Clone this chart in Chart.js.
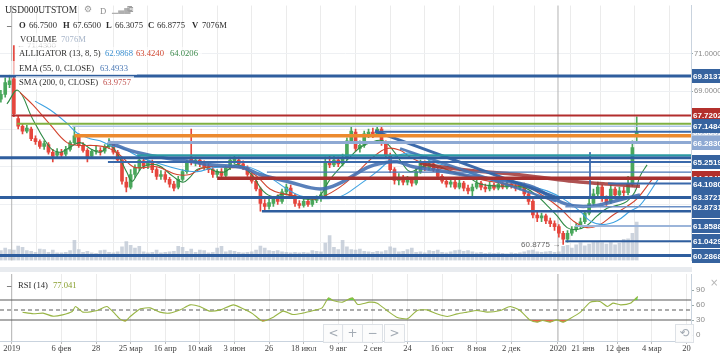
<!DOCTYPE html>
<html>
<head>
<meta charset="utf-8">
<script src="https://cdn.jsdelivr.net/npm/chart.js@4.4.1/dist/chart.umd.min.js"></script>
<style>
html,body{margin:0;padding:0;background:#fff;}
#wrap{position:relative;width:720px;height:354px;overflow:hidden;background:#fff;}
canvas{position:absolute;left:0;}
#cMain{top:0;}
#cRsi{top:266px;}
.t{position:absolute;font-family:"Liberation Serif","DejaVu Serif",serif;font-size:8.6px;line-height:12px;color:#2b2b2b;white-space:nowrap;}
.b{font-weight:bold;}
.bg{position:absolute;background:rgba(255,255,255,0.62);}
.btn{position:absolute;border:1px solid #dde1e6;background:rgba(252,252,252,0.9);color:#a3abb4;font-family:"DejaVu Sans",sans-serif;font-size:12px;text-align:center;line-height:17px;height:17px;}
#sep{position:absolute;left:0;top:267px;width:692px;height:5px;background:#e8ebef;}
</style>
</head>
<body>
<div id="wrap">
<canvas id="cMain" width="720" height="266"></canvas>
<canvas id="cRsi" width="720" height="88"></canvas>
<div id="sep"></div>

<div class="t" style="left:5px;top:4px;font-size:9.5px;">USD000UTSTOM</div>
<div class="t" style="left:84px;top:3px;font-family:'DejaVu Sans';font-size:9px;color:#9a9a9a;">⚙</div>
<div class="t" style="left:100px;top:5px;color:#8a8a8a;">D</div>
<div class="t" style="left:112px;top:4px;font-family:'DejaVu Sans';font-size:8px;color:#b0b0b0;">▁▃▅</div>
<div class="t" style="left:127px;top:3px;font-family:'DejaVu Sans';font-size:9px;color:#a0a0a0;">⧉</div>

<div class="t b" style="left:7px;top:19px;">–</div>
<div class="t b" style="left:19px;top:19px;">O</div><div class="t" style="left:29px;top:19px;">66.7500</div>
<div class="t b" style="left:63px;top:19px;">H</div><div class="t" style="left:73px;top:19px;">67.6500</div>
<div class="t b" style="left:106px;top:19px;">L</div><div class="t" style="left:115px;top:19px;">66.3075</div>
<div class="t b" style="left:148px;top:19px;">C</div><div class="t" style="left:157px;top:19px;">66.8775</div>
<div class="t b" style="left:192px;top:19px;">V</div><div class="t" style="left:202px;top:19px;">7076M</div>

<div class="bg" style="left:16px;top:33px;width:72px;height:13px;"></div>
<div class="t" style="left:20px;top:33px;">VOLUME</div><div class="t" style="left:61px;top:33px;color:#a6b4c8;">7076M</div>

<div class="bg" style="left:16px;top:47px;width:186px;height:13px;"></div>
<div class="t" style="left:19px;top:47px;">ALLIGATOR (13, 8, 5)</div>
<div class="t" style="left:105px;top:47px;color:#3a8fd0;">62.9868</div>
<div class="t" style="left:136px;top:47px;color:#d0452f;">63.4240</div>
<div class="t" style="left:170px;top:47px;color:#3d8a4c;">64.0206</div>

<div class="bg" style="left:0px;top:61px;width:137px;height:14px;"></div>
<div class="t" style="left:19px;top:62px;">EMA (55, 0, CLOSE)</div>
<div class="t" style="left:100px;top:62px;color:#4a78b5;">63.4933</div>

<div class="bg" style="left:16px;top:76px;width:118px;height:13px;"></div>
<div class="t" style="left:19px;top:76px;">SMA (200, 0, CLOSE)</div>
<div class="t" style="left:103px;top:76px;color:#c0504d;">63.9757</div>

<div class="t b" style="left:7px;top:279px;">–</div>
<div class="t" style="left:18px;top:279px;">RSI (14)</div>
<div class="t" style="left:53px;top:279px;color:#8aa030;">77.041</div>
<div class="t" style="left:710px;top:277px;font-family:'DejaVu Sans';font-size:10px;color:#b5b5b5;">×</div>

<div class="btn" style="left:323px;top:324px;width:19px;">&lt;</div>
<div class="btn" style="left:342px;top:324px;width:19px;">+</div>
<div class="btn" style="left:362px;top:324px;width:19px;">−</div>
<div class="btn" style="left:384px;top:324px;width:19px;">&gt;</div>
<div class="btn" style="left:675px;top:324px;width:17px;">⟲</div>
</div>

<script>
// ---------------- DATA ----------------
const tickDays   = [0, 23, 39, 55, 71, 87, 103, 119, 135, 151, 167, 183, 199, 215, 231, 252.6, 264.2, 280.1, 296, 312];
const tickLabels = ['2019','6 фев','28','25 мар','16 апр','10 май','3 июн','26','18 июл','9 авг','2 сен','24','16 окт','8 ноя','2 дек','2020','21 янв','12 фев','4 мар','20'];
const yearDays   = [0, 252.6];

const firstDay = -5, dayStep = 2;
const open = [68.58,68.84,69.35,69.66,67.56,67.15,66.89,67.00,66.49,66.33,66.08,66.18,65.77,65.61,65.77,65.67,65.92,66.28,66.59,66.13,
65.87,65.56,65.82,65.87,65.82,66.08,66.23,65.77,65.36,64.18,63.92,64.59,64.95,65.31,65.05,65.20,64.85,64.49,64.59,64.33,
64.08,63.92,64.33,64.74,65.51,65.26,65.36,65.15,65.00,64.85,64.59,64.74,64.54,64.95,65.31,65.36,65.15,64.95,64.59,64.23,
63.82,63.05,62.90,63.05,63.31,63.16,63.67,63.87,63.46,63.05,62.95,63.16,63.00,63.21,63.31,63.46,65.26,65.10,65.36,65.15,
65.46,66.38,66.84,65.97,66.13,66.74,66.84,66.74,67.00,66.28,65.61,64.85,64.28,64.44,64.18,64.33,64.13,64.74,65.20,64.95,
65.15,64.85,64.49,64.23,64.08,64.18,63.92,64.13,63.87,63.72,63.92,64.13,63.92,63.82,64.03,63.87,64.08,63.92,64.08,63.97,
63.87,64.03,63.56,63.16,62.44,62.28,62.39,62.13,61.98,61.82,61.47,61.16,61.47,61.67,61.82,62.08,62.54,63.05,63.56,63.92,
63.31,63.16,63.82,63.51,63.72,63.62,64.08,66.75];
const high = [69.05,69.71,69.87,71.43,67.71,67.30,67.20,67.10,66.64,66.43,66.38,66.28,65.92,65.97,65.92,66.08,66.38,67.10,66.74,66.28,
65.97,65.92,66.08,66.02,66.18,66.49,66.33,65.87,65.46,64.44,64.85,65.10,65.51,65.46,65.36,65.36,64.95,64.79,64.74,64.44,
64.23,64.49,64.85,65.36,67.00,65.51,65.46,65.31,65.15,64.95,64.85,64.90,65.05,65.51,65.56,65.51,65.31,65.05,64.69,64.33,
63.92,63.26,63.31,63.41,63.51,63.82,64.08,64.03,63.56,63.21,63.31,63.31,63.36,63.46,63.67,65.51,65.56,65.56,65.51,65.67,
66.54,67.10,67.00,66.38,66.89,67.00,67.05,67.15,67.10,66.38,65.72,64.95,64.64,64.54,64.49,64.44,64.90,65.36,65.31,65.36,
65.26,64.95,64.59,64.33,64.33,64.28,64.28,64.23,64.03,64.08,64.28,64.23,64.08,64.18,64.13,64.23,64.18,64.23,64.18,64.08,
64.13,64.13,63.67,63.26,62.59,62.54,62.49,62.28,62.13,61.93,61.57,61.62,61.82,61.98,62.28,62.69,63.31,63.82,64.18,64.03,
63.46,64.03,63.92,63.92,63.92,64.49,66.38,67.65];
const low = [68.43,68.69,69.20,67.66,67.00,66.74,66.79,66.38,66.18,65.97,65.92,65.67,65.26,65.46,65.46,65.56,65.82,66.18,66.02,65.77,
65.26,65.46,65.67,65.61,65.72,65.97,65.67,65.26,64.08,63.67,63.82,64.44,64.79,64.90,64.90,64.69,64.33,64.33,64.18,63.92,
63.72,63.82,64.23,64.64,65.10,65.05,65.00,64.85,64.69,64.44,64.44,64.38,64.44,64.85,65.15,65.05,64.85,64.49,64.13,63.72,
62.64,62.69,62.75,62.90,63.00,63.05,63.51,63.36,62.90,62.80,62.85,62.90,62.90,63.10,63.16,63.36,64.95,65.00,65.00,65.05,
65.36,66.23,65.82,65.77,66.02,66.54,66.54,66.59,66.13,65.46,64.69,64.08,64.03,64.03,64.03,63.97,64.03,64.64,64.79,64.85,
64.74,64.38,64.13,63.92,63.92,63.82,63.82,63.72,63.56,63.31,63.82,63.77,63.67,63.72,63.77,63.77,63.82,63.82,63.87,63.72,
63.77,63.46,63.00,62.28,62.08,62.08,61.98,61.82,61.62,61.26,60.8775,61.00,61.36,61.57,61.72,61.98,62.44,62.95,63.41,63.16,
62.95,63.05,63.36,63.31,63.46,63.51,63.97,66.3075];
const close = [68.84,69.46,69.56,67.82,67.15,66.89,67.05,66.49,66.33,66.08,66.23,65.77,65.56,65.77,65.61,65.92,66.28,66.64,66.13,65.87,
65.51,65.82,65.87,65.77,66.08,66.23,65.77,65.36,64.23,63.92,64.59,64.95,65.36,65.05,65.20,64.85,64.49,64.59,64.33,64.08,
63.87,64.33,64.74,65.20,65.26,65.36,65.15,65.00,64.85,64.59,64.74,64.54,64.95,65.36,65.41,65.15,64.95,64.59,64.23,63.82,
63.05,62.90,63.10,63.31,63.16,63.67,63.92,63.46,63.05,62.95,63.16,63.00,63.21,63.31,63.51,65.26,65.10,65.36,65.15,65.46,
66.38,66.89,65.97,66.13,66.74,66.84,66.69,67.00,66.28,65.61,64.85,64.28,64.44,64.18,64.33,64.13,64.74,65.20,64.95,65.15,
64.85,64.49,64.23,64.08,64.18,63.92,64.13,63.87,63.72,63.92,64.13,63.92,63.82,64.03,63.87,64.08,63.92,64.08,63.97,63.87,
64.03,63.56,63.16,62.44,62.28,62.39,62.13,61.98,61.82,61.47,61.16,61.47,61.67,61.82,62.08,62.54,63.05,63.56,63.92,63.31,
63.10,63.82,63.51,63.72,63.62,64.08,66.02,66.8775];
const volume = [1800,2300,2000,1900,2650,2400,1800,1700,1500,2100,2000,1500,1900,1400,1400,1500,1800,3700,2000,1500,
1700,1400,1300,1800,1900,1500,1400,1600,2500,3500,2800,2300,2600,1600,1400,1500,1900,1400,1500,1600,
1700,2600,2400,1700,2100,1500,1900,1800,1400,1500,2300,2600,1600,1800,1700,1500,1400,1500,1600,1900,
2650,2300,1800,1700,1800,1600,1500,1400,1500,1400,1500,1400,1800,1700,1600,3200,4600,2400,2000,3700,
2500,2000,1900,2100,1700,1600,1500,1700,1600,1800,2500,2300,1600,1700,2000,2300,1500,1600,1400,1800,
1700,1900,1500,1400,1600,1800,1900,1700,1800,1600,1400,1500,1300,1400,1300,1400,1300,1200,1400,1300,
1400,1600,1800,1900,1600,1500,1600,1700,1500,1600,2600,2800,2300,2900,3300,2700,3000,3400,3500,3300,
3000,3500,2900,3200,3900,4000,5000,7076];

// indicator lines (day, value)
const lipsDay  = [-2.2,2.9,9.8,17.7,22.3,26.0,31.6,36.2,40.8,45.5,49.2,53.3,55.6,58.0,60.7,67.2,74.6,79.2,82.4,85.7,90.3,94.9,98.6,103.3,106.9,111.6,116.2,120.8,125.5,130.1,134.7,141.2,147.2,151.8,156.4,161.1,165.7,171.7,176.3,180.5,184.2,188.8,193.4,198.1,204.1,210.5,216.6,225.8,236.4,242.9,247.5,252.2,256.8,261.4,266.0,270.7,275.3,279.9,284.5,288.2,290.5,293.8];
const lipsVal  = [68.33,69.05,67.51,66.02,65.77,65.97,66.28,65.97,65.77,66.13,65.61,64.69,64.23,64.59,65.00,65.10,64.49,64.18,64.44,64.85,64.95,64.74,64.74,65.10,65.00,64.49,63.72,63.41,63.56,63.46,63.31,63.31,64.33,64.95,65.51,66.02,66.28,66.38,65.87,65.20,64.74,64.95,65.10,65.00,64.69,64.49,64.08,63.97,63.92,63.46,62.95,62.39,61.77,61.67,61.88,62.39,62.80,62.95,63.16,63.67,64.49,65.10];
const teethDay = [3.8,9.8,17.7,25.6,31.6,37.6,44.1,50.1,56.1,60.7,67.2,76.4,82.4,88.5,94.9,101.0,106.9,113.4,119.4,125.5,133.3,141.2,151.8,159.7,167.1,173.5,179.6,184.2,188.8,194.8,201.3,208.7,216.6,229.1,238.3,245.7,253.6,259.6,266.0,272.0,278.1,284.5,289.2,296.1];
const teethVal = [68.94,68.28,67.25,66.28,66.13,66.13,66.02,65.61,65.00,64.95,65.00,64.59,64.59,64.95,65.00,64.95,64.95,64.49,63.82,63.56,63.41,63.31,63.92,64.69,65.51,65.97,65.87,65.51,65.26,65.00,64.85,64.59,64.33,64.08,63.92,63.46,62.80,62.13,61.77,61.93,62.44,62.90,63.31,64.33];
const jawDay   = [10.8,17.7,25.6,30.2,36.2,40.8,45.5,51.5,59.3,67.2,77.8,85.7,93.1,101.0,108.8,114.8,120.8,127.3,133.3,141.2,151.8,161.1,168.9,176.3,182.8,188.8,194.8,204.1,216.6,229.1,239.7,247.5,254.9,262.8,267.4,273.4,279.9,285.9,290.5,298.9];
const jawVal   = [68.48,68.02,67.30,66.79,66.49,66.38,66.13,65.97,65.51,65.20,64.85,64.74,64.95,65.00,65.00,64.74,64.33,63.82,63.46,63.31,63.41,64.08,64.74,65.46,65.72,65.61,65.26,64.95,64.49,64.23,63.97,63.72,63.31,62.64,62.13,61.93,62.13,62.64,62.95,64.33];
const emaDay   = [44.5,54.7,68.6,83.8,91.7,107.0,114.8,128.7,142.6,151.8,164.3,171.7,178.2,185.6,198.1,213.3,229.1,241.1,249.0,256.8,262.8,270.7,278.1,290.5];
const emaVal   = [66.33,65.87,65.51,65.26,65.10,64.95,64.59,64.18,63.82,64.13,64.95,65.20,65.26,65.00,64.79,64.49,64.23,63.92,63.41,63.00,62.90,62.95,63.16,63.51];
const smaDay   = [188.8,198.1,213.3,229.1,244.3,259.6,275.3,290.5];
const smaVal   = [65.20,65.00,64.79,64.64,64.44,64.23,64.08,63.97];

// drawn levels (price, first day)
const levelValues = [69.8137,67.7202,67.28,67.1484,66.86,66.64,66.283,65.61,65.48,65.2519,64.71,64.3845,64.108,63.3721,62.8731,62.641,61.8588,61.0429,60.2868];
const levelStart  = [-6,0,2.5,28,168,29,44.5,58,-6,44.5,118,95,275.7,-6,256,115.7,260.5,256,-6];
// trend lines (day, price) pairs
const trendDays   = [[168,253.5],[179.6,251.7]];
const trendVals   = [[66.89,63.31],[65.97,63.16]];
const markDay = 267.4, markVals = [65.77, 63.31];

// price tags on the axis
const tagValues = [69.8137,67.7202,66.8601,67.1484,66.2830,65.2519,64.3845,64.1080,63.3721,62.6410,62.8731,61.8588,61.0429,60.2868];

// RSI
const rsiDay = [5,10,14.5,19,23.5,28,29.5,33,39.5,44,47,50,52.5,54.5,59.5,64,68.5,73,78,82.5,87,91.5,96.5,102.5,107,111.5,116,121,125.5,130,134.5,139.5,143.5,146.5,148.5,153,157.5,160,165.5,169,173.5,178,183,187.5,192,196.5,201.5,206,210.5,215,220,226,230.5,235,239.5,243,245.5,249,252,255,258,263,267.5,272,275.5,278,281.5,286,289.5];
const rsiVal = [45.6,42.4,43.7,37.7,40.3,47,57,45.7,49,57,45.7,32.3,27.7,35.7,52.3,54.3,45.7,43.7,50.3,60.3,57,47.7,50.3,60.3,52.3,42.3,27.7,35.7,47.7,41,43.7,49,54.3,74.3,69,65.7,74.3,61,65.7,63.7,49,35.7,32.3,49,50.3,42.3,37,42.3,45.7,49,45.7,49,57,49,30.3,25.7,29,25.7,30.3,25.7,32.3,45.7,65.7,67,57,63.7,60.3,63.3,77.04];
const rsiLevels = [70, 50, 30];

// ---------------- STYLES ----------------
const levelColors = ['#2f5e9e','#b22d2d','#7fb041','#aac3e3','#3a69ab','#ec8a2e','#8ea9d3','#2b9aa3','#2f5e9e','#3a69ab','#4a76b5','#a8312f','#3a69ab','#2f5e9e','#6b90c6','#2f5e9e','#9cb5da','#2f5e9e','#2f5e9e'];
const levelWidths = [3,2,2,1.5,2,3.5,3,2,3,2,1.2,3.5,2,3,1.5,2.5,2,2,3];
const tagColors = ['#36639f','#b3302c','#b9c8df','#36639f','#8ea9d3','#36639f','#b3302c','#36639f','#36639f','#36639f','#36639f','#36639f','#36639f','#36639f'];

const X_MIN = -5.41, X_MAX = 314.1, AXIS_W = 29;
const GREEN = '#4aa75c', RED = '#e5463d';

// ---------------- BUILD ----------------
const days = open.map((_, i) => firstDay + i * dayStep);
const up = close.map((c, i) => c >= open[i]);
const pts = (d, v) => d.map((x, i) => ({x, y: v[i]}));

const mainDatasets = [];
levelValues.forEach((v, i) => {
  mainDatasets.push({type:'line', data:[{x:levelStart[i], y:v},{x:X_MAX+2, y:v}], borderColor:levelColors[i],
    borderWidth:levelWidths[i], pointRadius:0, order:1});
});
trendDays.forEach((d, i) => {
  mainDatasets.push({type:'line', data:pts(d, trendVals[i]), borderColor: i ? 'rgba(70,115,178,0.9)' : 'rgba(50,98,165,0.95)',
    borderWidth: i ? 2.5 : 3, pointRadius:0, order:1});
});
mainDatasets.push({type:'line', data:[{x:markDay,y:markVals[0]},{x:markDay,y:markVals[1]}], borderColor:'#3a69ab', borderWidth:1, pointRadius:0, order:1});
mainDatasets.push({type:'line', data:pts(emaDay, emaVal), borderColor:'rgba(66,110,176,0.88)', borderWidth:3.5, pointRadius:0, tension:0.4, order:2});
mainDatasets.push({type:'line', data:pts(smaDay, smaVal), borderColor:'rgba(160,52,52,0.85)', borderWidth:3.5, pointRadius:0, tension:0.4, order:2});
mainDatasets.push({type:'line', data:pts(jawDay, jawVal), borderColor:'#3ea2e2', borderWidth:1.1, pointRadius:0, tension:0.4, order:2});
mainDatasets.push({type:'line', data:pts(teethDay, teethVal), borderColor:'#d2452f', borderWidth:1.1, pointRadius:0, tension:0.4, order:2});
mainDatasets.push({type:'line', data:pts(lipsDay, lipsVal), borderColor:'#2f8a45', borderWidth:1.1, pointRadius:0, tension:0.4, order:2});
mainDatasets.push({type:'bar', data:days.map((d,i)=>({x:d, y:[open[i], close[i]]})), backgroundColor:up.map(u=>u?GREEN:RED),
  barThickness:3, grouped:false, order:3});
mainDatasets.push({type:'bar', data:days.map((d,i)=>({x:d, y:[low[i], high[i]]})), backgroundColor:up.map(u=>u?GREEN:RED),
  barThickness:1, grouped:false, order:4});
yearDays.forEach(d => mainDatasets.push({type:'line', data:[{x:d,y:59},{x:d,y:74}], borderColor:'#b4b4b4', borderWidth:1, pointRadius:0, order:8}));
mainDatasets.push({type:'bar', yAxisID:'yv', data:days.map((d,i)=>({x:d, y:volume[i]})), backgroundColor:'rgba(184,194,208,0.72)',
  barThickness:3, grouped:false, order:9});

const xTicksBuild = s => { s.ticks = tickDays.map(v => ({value: v})); };

const tagPlugin = {
  id: 'tags',
  afterDraw(chart) {
    const ctx = chart.ctx, ys = chart.scales.y, xs = chart.scales.x;
    ctx.save();
    ctx.font = '8px "Liberation Sans", Arial, sans-serif';
    ctx.fillStyle = '#666';
    ctx.textBaseline = 'middle';
    ctx.textAlign = 'right';
    const iLow = low.indexOf(Math.min(...low));
    ctx.fillText(Math.min(...low).toFixed(4) + ' →', xs.getPixelForValue(days[iLow]) - 3, ys.getPixelForValue(Math.min(...low)));
    ctx.textAlign = 'left';
    ctx.fillStyle = '#b8b8b8';
    const iHigh = high.indexOf(Math.max(...high));
    ctx.fillText('← ' + Math.max(...high).toFixed(4), xs.getPixelForValue(days[iHigh]) + 3, ys.getPixelForValue(Math.max(...high)));
    ctx.font = 'bold 8px "Liberation Sans", Arial, sans-serif';
    tagValues.forEach((v, i) => {
      const y = Math.round(ys.getPixelForValue(v));
      ctx.fillStyle = tagColors[i];
      ctx.fillRect(692, y - 7, 28, 14);
      ctx.fillStyle = '#fff';
      ctx.fillText(v.toFixed(4), 693, y + 0.5);
    });
    ctx.restore();
  }
};

new Chart(document.getElementById('cMain'), {
  type: 'bar',
  data: { datasets: mainDatasets },
  options: {
    responsive: false, animation: false, events: [],
    layout: { padding: { left: 0, right: 0, top: 0, bottom: 2 } },
    plugins: { legend: { display: false }, tooltip: { enabled: false } },
    scales: {
      x: { type: 'linear', min: X_MIN, max: X_MAX, offset: false,
           afterBuildTicks: xTicksBuild, afterFit: s => { s.height = 0; },
           ticks: { display: false }, grid: { color: '#ebebeb', drawTicks: false }, border: { display: false } },
      y: { position: 'right', min: 60.03, max: 73.55,
           afterBuildTicks: s => { s.ticks = [61,63,65,67,69,71].map(v => ({value: v})); },
           afterFit: s => { s.width = AXIS_W; },
           ticks: { callback: v => Number(v).toFixed(4), color: '#8a8a8a', padding: 1,
                    font: { family: '"Liberation Sans", Arial, sans-serif', size: 7.6 } },
           grid: { color: '#eef0f3', tickLength: 2, tickColor: '#9aa' }, border: { color: '#c9d3de' } },
      yv: { display: false, min: 0, max: 47000 }
    }
  },
  plugins: [tagPlugin]
});

// ---------------- RSI ----------------
const rsiPts = pts(rsiDay, rsiVal);
const rsiDatasets = [
  {type:'line', data:rsiPts, borderColor:'#98b545', borderWidth:1.1, pointRadius:0, tension:0.2,
   fill:{target:{value:70}, above:'rgba(92,214,72,0.95)', below:'rgba(0,0,0,0)'}, order:1},
  {type:'line', data:rsiPts, borderColor:'rgba(0,0,0,0)', borderWidth:0, pointRadius:0, tension:0.2,
   fill:{target:{value:30}, above:'rgba(0,0,0,0)', below:'rgba(236,98,66,0.95)'}, order:2}
];
rsiLevels.forEach((v, i) => rsiDatasets.push({type:'line', data:[{x:X_MIN,y:v},{x:X_MAX,y:v}], borderColor:'#5a5a5a',
  borderWidth:1.1, borderDash: v === 50 ? [4,3] : [], pointRadius:0, order:3}));
yearDays.forEach(d => rsiDatasets.push({type:'line', data:[{x:d,y:-20},{x:d,y:130}], borderColor:'#b4b4b4', borderWidth:1, pointRadius:0, order:4}));

new Chart(document.getElementById('cRsi'), {
  type: 'line',
  data: { datasets: rsiDatasets },
  options: {
    responsive: false, animation: false, events: [],
    layout: { padding: { left: 0, right: 0, top: 8, bottom: 0 } },
    plugins: { legend: { display: false }, tooltip: { enabled: false } },
    scales: {
      x: { type: 'linear', min: X_MIN, max: X_MAX, offset: false,
           afterBuildTicks: xTicksBuild, afterFit: s => { s.height = 13; },
           ticks: { callback: (v, i) => tickLabels[i], autoSkip: false, maxRotation: 0, padding: 0, color: '#444',
                    font: { family: '"Liberation Serif", "DejaVu Serif", serif', size: 8.5 } },
           grid: { color: '#ebebeb', tickLength: 3, tickColor: '#bbb' }, border: { color: '#c9d3de' } },
      y: { position: 'right', min: -12, max: 122,
           afterBuildTicks: s => { s.ticks = [0,30,60,90].map(v => ({value: v})); },
           afterFit: s => { s.width = AXIS_W; },
           ticks: { color: '#8a8a8a', padding: 2, font: { family: '"Liberation Sans", Arial, sans-serif', size: 8 } },
           grid: { drawOnChartArea: false, tickLength: 3, tickColor: '#9aa' }, border: { color: '#c9d3de' } }
    }
  }
});
</script>
</body>
</html>
